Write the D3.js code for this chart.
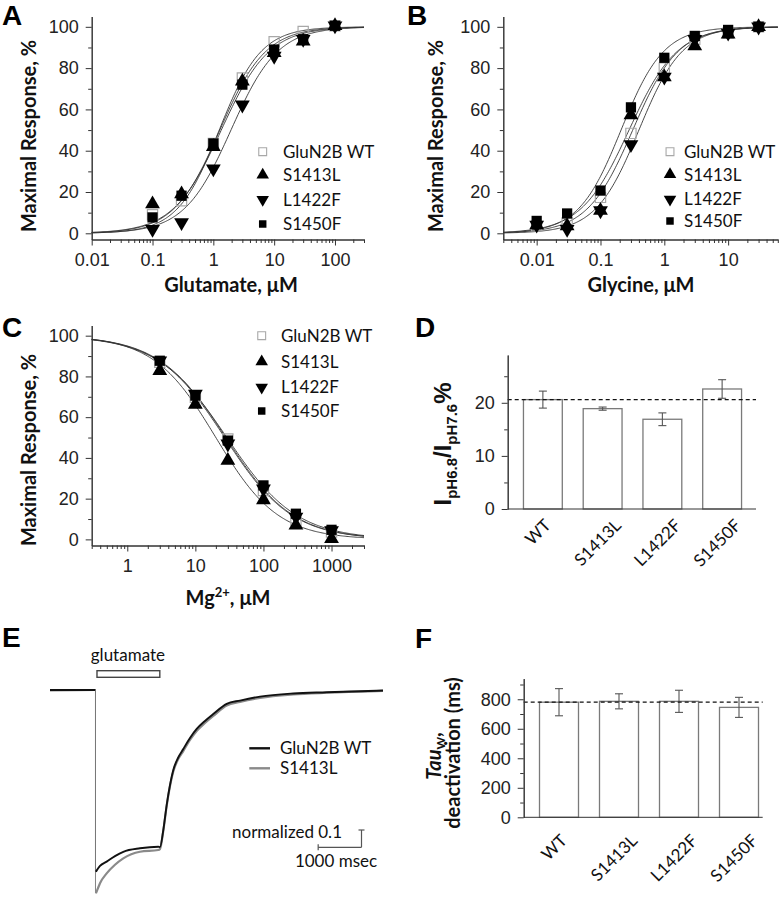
<!DOCTYPE html>
<html>
<head>
<meta charset="utf-8">
<script src="https://cdn.jsdelivr.net/npm/d3@7"></script>
<style>
  body { margin: 0; background: #fff; }
  svg { display: block; }
  .axis path, .axis line { stroke: #333; stroke-width: 1; }
  .axis text { font-family: "Liberation Sans", Arial, sans-serif; font-size: 18px; fill: #222; }
  .title { font-family: Lato, "Open Sans", sans-serif; font-weight: bold; font-size: 20px; fill: #111; }
  .leg { font-family: Lato, "Open Sans", sans-serif; font-size: 17px; fill: #111; }
  .letter { font-family: "Liberation Sans", Arial, sans-serif; font-weight: bold; font-size: 28px; fill: #000; }
</style>
</head>
<body>
<div id="chart"></div>
<script>
// ---- data ----
const variants = ["GluN2B WT", "S1413L", "L1422F", "S1450F"];
const barLabels = ["WT", "S1413L", "L1422F", "S1450F"];

// A: glutamate concentration-response (% of max)
const glutamateConc = [0.1, 0.3, 1, 3, 10, 30, 100];
const glutWT = [9, 15.8, 43.5, 75.2, 92.8, 97.7, 100.5];
const glutS1413L = [14.2, 19, 41.9, 73.6, 87.5, 93, 100.5];
const glutL1422F = [2, 5.2, 31.3, 62.2, 85.8, 94, 100.5];
const glutS1450F = [7.7, 18.2, 43.5, 72, 89, 94, 100.5];
// Hill fit parameters (EC50 in uM, Hill slope)
const glutEC50 = [1.25, 1.35, 1.95, 1.28];
const glutHill = [1.26, 1.1, 1.13, 1.15];

// B: glycine concentration-response
const glycineConc = [0.01, 0.03, 0.1, 0.3, 1, 3, 10, 30];
const glyWT = [3.6, 5, 17.4, 48.4, 80, 94, 97, 100];
const glyS1413L = [4, 3.6, 11, 57.3, 75.7, 90.7, 96.4, 100];
const glyL1422F = [4, 2, 11, 43, 75.7, 94, 97, 100];
const glyS1450F = [6, 9.6, 20.7, 61, 85, 95.6, 98.5, 100];
const glyEC50 = [0.32, 0.28, 0.40, 0.21];
const glyHill = [1.22, 1.15, 1.28, 1.3];

// C: Mg2+ inhibition
const mgConc = [3, 10, 30, 100, 300, 1000];
const mgWT = [87, 69.8, 49.3, 24, 9.3, 3.6];
const mgS1413L = [82.8, 66.2, 38.7, 19.4, 6.9, 0.3];
const mgL1422F = [87.7, 71.4, 46.9, 24.8, 11, 4.4];
const mgS1450F = [87.7, 70.6, 48.5, 26.5, 12.6, 4.7];
const mgIC50 = [28, 20, 27, 29];
const mgHill = [0.88, 0.95, 0.88, 0.85];

// D: proton sensitivity
const pHRatio = [20.6, 18.9, 16.9, 22.6];
const pHErr = [1.6, 0.3, 1.2, 1.75];

// F: weighted deactivation tau (ms)
const tauW = [780, 786, 786, 745];
const tauErr = [92, 51, 75, 68];

// E: normalized current traces [time ms, normalized current]
const glutamateApplication = [0, 1450];
const traceWT = [[-1050, 0], [-10, 0], [0, 0], [10, -1.05], [104, -1.017], [258, -0.992], [450, -0.96],
  [642, -0.935], [1027, -0.915], [1449, -0.906], [1489, -0.908], [1565, -0.81], [1643, -0.665],
  [1720, -0.549], [1796, -0.462], [1904, -0.393], [2026, -0.341], [2181, -0.277], [2336, -0.225],
  [2527, -0.179], [2719, -0.139], [3028, -0.08], [3336, -0.061], [3798, -0.038], [4565, -0.02],
  [5336, -0.013], [6490, -0.004], [6636, -0.003]];
const traceS1413L = [[-1050, -0.003], [-10, 0], [0, 0], [10, -1.175], [58, -1.145], [104, -1.117],
  [258, -1.06], [450, -1.01], [642, -0.973], [1027, -0.935], [1449, -0.925], [1489, -0.919],
  [1565, -0.815], [1643, -0.671], [1720, -0.555], [1796, -0.471], [1904, -0.402], [2026, -0.353],
  [2181, -0.289], [2336, -0.237], [2527, -0.191], [2719, -0.15], [3028, -0.09], [3336, -0.069],
  [3798, -0.046], [4565, -0.026], [5336, -0.016], [6490, -0.006], [6636, -0.005]];
const scaleBarTime = 1000;
const scaleBarAmp = 0.1;

// ---- drawing ----
const svg = d3.select("#chart").append("svg")
  .attr("width", 782)
  .attr("height", 899);

const shapes = [d3.symbolSquare, d3.symbolTriangle, d3.symbolTriangle, d3.symbolSquare];
const rotations = [0, 0, 180, 0];
const fills = ["none", "#000", "#000", "#000"];
const strokes = ["#a8a8a8", "none", "none", "none"];
const dataSizes = [105, 95, 95, 105];
const legendSizes = [62, 68, 68, 56];

function letter(txt, x, y) {
  svg.append("text").attr("class", "letter").attr("x", x).attr("y", y).text(txt);
}

function leftAxis(y, x0, major, minor) {
  svg.append("g").attr("class", "axis")
    .attr("transform", `translate(${x0},0)`)
    .call(d3.axisLeft(y).tickValues(minor).tickSize(3.5).tickSizeOuter(0).tickFormat(""));
  svg.append("g").attr("class", "axis")
    .attr("transform", `translate(${x0},0)`)
    .call(d3.axisLeft(y).tickValues(major).tickSize(6).tickSizeOuter(0).tickPadding(7));
}

function rotatedTitle(x, y, txt) {
  return svg.append("text").attr("class", "title")
    .attr("text-anchor", "middle")
    .attr("transform", `translate(${x},${y}) rotate(-90)`)
    .text(txt);
}

function dosePanel(cfg) {
  const x = d3.scaleLog().domain(cfg.xDomain).range(cfg.xRange);
  const y = d3.scaleLinear().domain([-3, 105]).range(cfg.yRange);
  const [lo, hi] = cfg.xDomain;
  const decades = [], minor = [];
  for (let e = Math.floor(Math.log10(lo) + 1e-9); e <= Math.floor(Math.log10(hi) + 1e-9); e++) {
    const d = +Math.pow(10, e).toPrecision(6);
    if (d >= lo * 0.999 && d <= hi * 1.001) decades.push(d);
    for (let k = 2; k <= 9; k++) {
      const v = +(k * d).toPrecision(6);
      if (v >= lo * 0.999 && v <= hi * 1.001) minor.push(v);
    }
  }
  const axisY = cfg.yRange[0];

  svg.append("g").attr("class", "axis")
    .attr("transform", `translate(0,${axisY})`)
    .call(d3.axisBottom(x).tickValues(minor).tickSize(3.5).tickSizeOuter(0).tickFormat(""));
  svg.append("g").attr("class", "axis")
    .attr("transform", `translate(0,${axisY})`)
    .call(d3.axisBottom(x).tickValues(decades).tickSize(6).tickSizeOuter(0).tickPadding(8)
      .tickFormat(d3.format("~g")));

  leftAxis(y, cfg.xRange[0], [0, 20, 40, 60, 80, 100], [10, 30, 50, 70, 90]);

  // fitted curves
  const xs = d3.range(241).map(j => lo * Math.pow(hi / lo, j / 240));
  const line = d3.line().x(d => x(d[0])).y(d => y(d[1]));
  cfg.series.forEach((s, i) => {
    svg.append("path")
      .attr("d", line(xs.map(v => [v, cfg.fit(v, i)])))
      .attr("fill", "none")
      .attr("stroke", "#333")
      .attr("stroke-width", 0.9);
  });

  // points
  cfg.series.forEach((s, i) => {
    const sym = d3.symbol().type(shapes[i]).size(dataSizes[i]);
    svg.append("g").selectAll("path")
      .data(s.map((v, j) => [cfg.conc[j], v]))
      .join("path")
      .attr("d", sym)
      .attr("transform", d => `translate(${x(d[0])},${y(d[1])}) rotate(${rotations[i]})`)
      .attr("fill", fills[i])
      .attr("stroke", strokes[i])
      .attr("stroke-width", 1.2);
  });

  // legend
  variants.forEach((name, i) => {
    const ly = cfg.legend.rows[i];
    svg.append("path")
      .attr("d", d3.symbol().type(shapes[i]).size(legendSizes[i]))
      .attr("transform", `translate(${cfg.legend.x},${ly}) rotate(${rotations[i]})`)
      .attr("fill", fills[i])
      .attr("stroke", strokes[i])
      .attr("stroke-width", 1.1);
    svg.append("text").attr("class", "leg")
      .attr("x", cfg.legend.labelX).attr("y", ly + 6)
      .text(name);
  });

  rotatedTitle(cfg.yTitle[0], cfg.yTitle[1], "Maximal Response, %");
  const xt = svg.append("text").attr("class", "title")
    .attr("text-anchor", "middle")
    .attr("x", cfg.xTitle[0]).attr("y", cfg.xTitle[1]);
  cfg.xLabel(xt);
}

const agonist = (ec, n) => (v, i) => 100 / (1 + Math.pow(ec[i] / v, n[i]));
const antagonist = (ic, n) => (v, i) => 100 / (1 + Math.pow(v / ic[i], n[i]));

// Panel A
dosePanel({
  xDomain: [0.01, 300], xRange: [91.7, 364], yRange: [239.5, 16.5],
  conc: glutamateConc,
  series: [glutWT, glutS1413L, glutL1422F, glutS1450F],
  fit: agonist(glutEC50, glutHill),
  legend: { x: 262.7, labelX: 283, rows: [151.7, 175, 199.5, 224] },
  yTitle: [36, 136], xTitle: [231, 292],
  xLabel: t => t.text("Glutamate, μM")
});

// Panel B
dosePanel({
  xDomain: [0.003, 60], xRange: [503.3, 777.8], yRange: [239.5, 16.5],
  conc: glycineConc,
  series: [glyWT, glyS1413L, glyL1422F, glyS1450F],
  fit: agonist(glyEC50, glyHill),
  legend: { x: 670, labelX: 684, rows: [151.7, 174.5, 199.3, 221] },
  yTitle: [443, 136], xTitle: [641, 292],
  xLabel: t => t.text("Glycine, μM")
});

// Panel C
dosePanel({
  xDomain: [0.3, 3000], xRange: [91.7, 364], yRange: [545.5, 325.5],
  conc: mgConc,
  series: [mgWT, mgS1413L, mgL1422F, mgS1450F],
  fit: antagonist(mgIC50, mgHill),
  legend: { x: 261.7, labelX: 281, rows: [335.7, 361.7, 387.3, 411] },
  yTitle: [36, 450], xTitle: [228, 605],
  xLabel: t => {
    t.append("tspan").text("Mg");
    t.append("tspan").attr("font-size", 13).attr("dy", -8).text("2+");
    t.append("tspan").attr("dy", 8).text(", μM");
  }
});

// bar panels D and F
function barPanel(cfg) {
  const y = d3.scaleLinear().domain(cfg.yDomain).range(cfg.yRange);
  const x = d3.scaleBand().domain(barLabels).range(cfg.bandRange)
    .paddingInner(0.35).paddingOuter(0.175);
  const axisY = cfg.yRange[0];

  svg.append("g").selectAll("rect")
    .data(cfg.values)
    .join("rect")
    .attr("x", (d, i) => x(barLabels[i]))
    .attr("y", d => y(d))
    .attr("width", x.bandwidth())
    .attr("height", d => axisY - y(d))
    .attr("fill", "#fff")
    .attr("stroke", "#7a7a7a")
    .attr("stroke-width", 1.3);

  const eb = svg.append("g").attr("stroke", "#555").attr("stroke-width", 1.1);
  cfg.values.forEach((v, i) => {
    const cx = x(barLabels[i]) + x.bandwidth() / 2;
    const e = cfg.err[i];
    eb.append("line").attr("x1", cx).attr("x2", cx).attr("y1", y(v - e)).attr("y2", y(v + e));
    [v - e, v + e].forEach(t => {
      eb.append("line").attr("x1", cx - 4).attr("x2", cx + 4).attr("y1", y(t)).attr("y2", y(t));
    });
  });

  // reference line at WT mean
  svg.append("line")
    .attr("x1", cfg.axisX[0]).attr("x2", cfg.axisX[1])
    .attr("y1", y(cfg.values[0])).attr("y2", y(cfg.values[0]))
    .attr("stroke", "#111").attr("stroke-width", 1.2).attr("stroke-dasharray", "4,3");

  leftAxis(y, cfg.axisX[0], cfg.major, cfg.minor);
  svg.append("line")
    .attr("x1", cfg.axisX[0]).attr("x2", cfg.axisX[1])
    .attr("y1", axisY).attr("y2", axisY)
    .attr("stroke", "#333");

  barLabels.forEach(name => {
    const cx = x(name) + x.bandwidth() / 2;
    const t = svg.append("text").attr("class", "leg")
      .attr("font-size", 18)
      .attr("text-anchor", "middle")
      .attr("dy", "0.35em")
      .text(name);
    const len = t.node().getComputedTextLength();
    const half = (len + 12) * 0.3536;
    t.attr("transform", `translate(${cx - 5},${axisY + cfg.labelTop + half}) rotate(-45)`);
  });
}

barPanel({
  yDomain: [0, 29], yRange: [509, 355], axisX: [507.7, 756], bandRange: [513, 752],
  values: pHRatio, err: pHErr, major: [0, 10, 20], minor: [5, 15, 25], labelTop: 9
});

barPanel({
  yDomain: [0, 940], yRange: [817.3, 678.6], axisX: [523.7, 762.7], bandRange: [529, 769],
  values: tauW, err: tauErr, major: [0, 200, 400, 600, 800], minor: [100, 300, 500, 700, 900], labelTop: 16
});

// D y title
{
  const t = svg.append("text")
    .attr("font-family", "'Liberation Sans', Arial, sans-serif")
    .attr("font-weight", "bold").attr("font-size", 24).attr("fill", "#111")
    .attr("text-anchor", "middle")
    .attr("transform", "translate(451,444) rotate(-90)");
  t.append("tspan").text("I");
  t.append("tspan").attr("font-size", 15).attr("dy", 6).text("pH6.8");
  t.append("tspan").attr("dy", -6).text("/I");
  t.append("tspan").attr("font-size", 15).attr("dy", 6).text("pH7.6");
  t.append("tspan").attr("dy", -6).text("%");
}

// F y title
{
  const t1 = rotatedTitle(441, 756, "");
  t1.attr("font-size", 18);
  t1.append("tspan").attr("font-style", "italic").text("Tau");
  t1.append("tspan").attr("font-size", 12).attr("dy", 4).text("W");
  t1.append("tspan").attr("dy", -4).text(",");
  rotatedTitle(460, 753, "deactivation (ms)").attr("font-size", 18);
}

// Panel E traces
{
  const x = d3.scaleLinear().domain([-1050, 6650]).range([50, 383.6]);
  const y = d3.scaleLinear().domain([0, -1]).range([690, 863]);
  const trace = d3.line().x(d => x(d[0])).y(d => y(d[1])).curve(d3.curveMonotoneX);

  // draw each trace as baseline, a thin onset drop, and the response
  function drawTrace(pts, color, w) {
    const pre = pts.filter(d => d[0] <= 0);
    const post = pts.filter(d => d[0] > 0);
    svg.append("path").attr("d", trace(pre))
      .attr("fill", "none").attr("stroke", color).attr("stroke-width", w);
    svg.append("line")
      .attr("x1", x(pre[pre.length - 1][0])).attr("x2", x(pre[pre.length - 1][0]))
      .attr("y1", y(pre[pre.length - 1][1])).attr("y2", y(post[0][1]))
      .attr("stroke", "#777").attr("stroke-width", 0.9);
    svg.append("path").attr("d", trace(post))
      .attr("fill", "none").attr("stroke", color).attr("stroke-width", w)
      .attr("stroke-linejoin", "round");
  }
  drawTrace(traceS1413L, "#8a8a8a", 2.2);
  drawTrace(traceWT, "#111", 1.9);

  // glutamate application bar
  svg.append("rect")
    .attr("x", x(glutamateApplication[0]) + 1.5)
    .attr("y", 670.7)
    .attr("width", x(glutamateApplication[1]) - x(glutamateApplication[0]))
    .attr("height", 6.6)
    .attr("fill", "#fff").attr("stroke", "#444").attr("stroke-width", 1.4);
  svg.append("text").attr("class", "leg").attr("font-size", 19)
    .attr("text-anchor", "middle")
    .attr("x", (x(glutamateApplication[0]) + x(glutamateApplication[1])) / 2 + 1)
    .attr("y", 661)
    .text("glutamate");

  // legend
  [["GluN2B WT", "#111", 748.3], ["S1413L", "#8a8a8a", 768.3]].forEach(([name, c, ly]) => {
    svg.append("line").attr("x1", 249.3).attr("x2", 270).attr("y1", ly).attr("y2", ly)
      .attr("stroke", c).attr("stroke-width", 2.4);
    svg.append("text").attr("class", "leg").attr("font-size", 16)
      .attr("x", 280).attr("y", ly + 5.5).text(name);
  });

  // scale bar
  const sbRight = 361.5, sbY = 847.3;
  const sbLeft = sbRight - (x(scaleBarTime) - x(0));
  const sbTop = sbY - (y(-scaleBarAmp) - y(0));
  const sb = svg.append("g").attr("stroke", "#555").attr("stroke-width", 1.2);
  sb.append("line").attr("x1", sbLeft).attr("x2", sbRight).attr("y1", sbY).attr("y2", sbY);
  sb.append("line").attr("x1", sbLeft).attr("x2", sbLeft).attr("y1", sbY - 3).attr("y2", sbY + 3);
  sb.append("line").attr("x1", sbRight).attr("x2", sbRight).attr("y1", sbTop).attr("y2", sbY);
  sb.append("line").attr("x1", sbRight - 3).attr("x2", sbRight + 3).attr("y1", sbTop).attr("y2", sbTop);
  svg.append("text").attr("class", "leg").attr("font-size", 15.5)
    .attr("text-anchor", "end").attr("x", 342).attr("y", 838).text("normalized 0.1");
  svg.append("text").attr("class", "leg").attr("font-size", 15.5)
    .attr("text-anchor", "middle").attr("x", 336).attr("y", 867).text("1000 msec");
}

letter("A", 2, 25);
letter("B", 407, 25);
letter("C", 2, 337);
letter("D", 415, 337);
letter("E", 2, 647);
letter("F", 415, 648);
</script>
</body>
</html>
